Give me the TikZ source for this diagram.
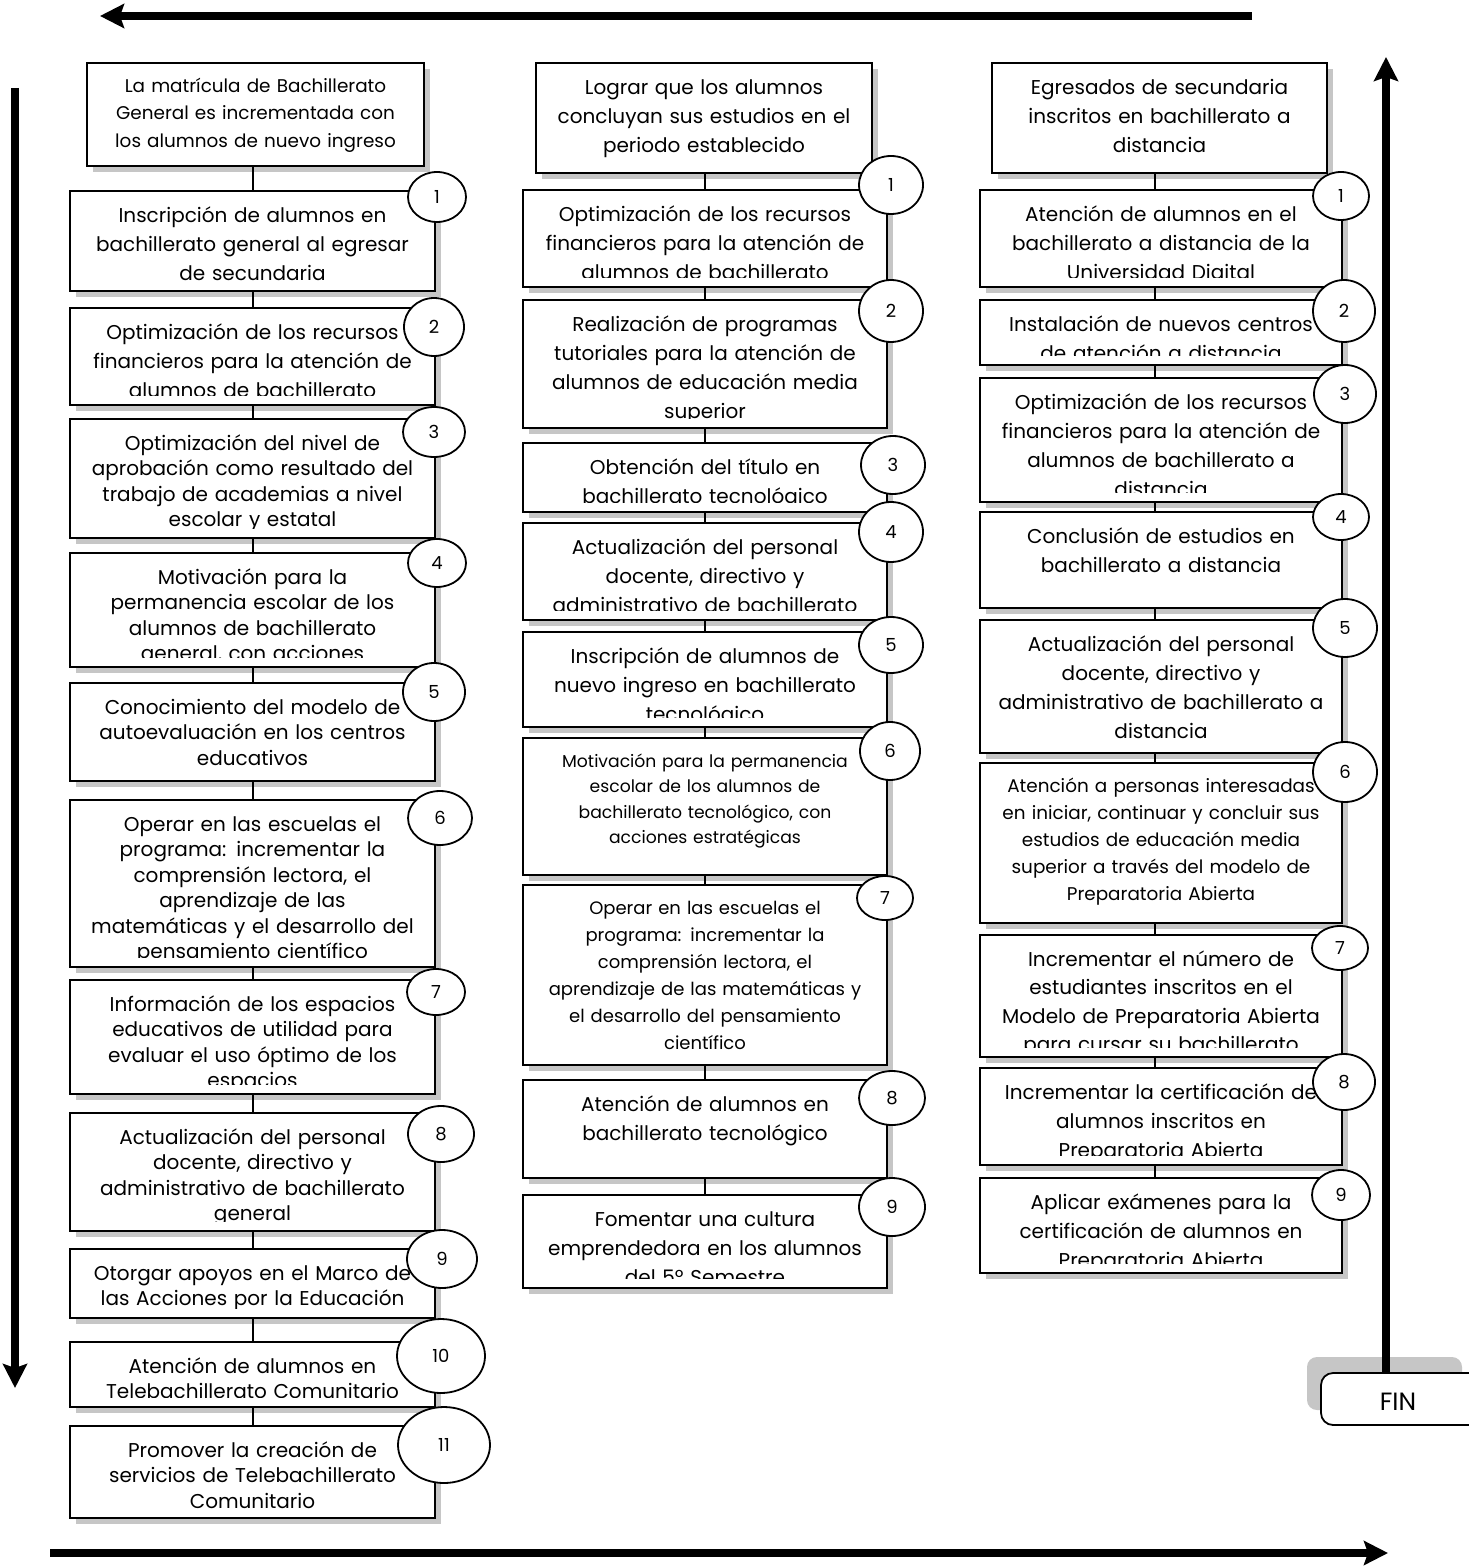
\documentclass[tikz,border=0pt]{standalone}
\usepackage{fontspec}
\setmainfont{Poppins}
\usetikzlibrary{fit,calc,shapes.geometric,arrows.meta}
\tikzset{
  boxst/.style={draw, fill=white, inner sep=0pt, line width=0.9pt},
  shadowst/.style={fill=gray!45},
  txt/.style={inner sep=0pt, text width=200pt, align=center},
  numst/.style={ellipse, draw, fill=white, line width=0.9pt, inner sep=0pt, font=\fontsize{9}{10}\selectfont},
  conn/.style={line width=0.9pt},
  bigarrow/.style={line width=4pt, -{Stealth[length=12pt,width=12pt,inset=2pt]}}
}
\newcommand\fA{\fontsize{10}{14.5}\selectfont}
\newcommand\fB{\fontsize{10}{12.75}\selectfont}
\newcommand\fC{\fontsize{9.2}{13.8}\selectfont}
\newcommand\fD{\fontsize{8.6}{12.75}\selectfont}
\newcommand\fE{\fontsize{9}{13.5}\selectfont}
\newcommand\fF{\fontsize{9.2}{13.5}\selectfont}
\newcommand\fG{\fontsize{10}{14.25}\selectfont}
% name, x1, y1, x2, y2, font, baseline offset, text
\newcommand\pbox[8]{%
  \fill[shadowst] (#2+6,#3+6) rectangle (#4+6,#5+6);
  \node[boxst, fit={(#2,#3)(#4,#5)}] (#1) {};
  \begin{scope}
    \clip ($(#1.south west)+(0,-10)$) rectangle (#1.north east);
    \node[txt, font=#6, anchor=base] (#1t) at ($(#1.north)+(0,#7)$) {#8};
  \end{scope}}
% name, cx, cy, rx(px)->width pt, ry, number
\newcommand\pnum[6]{\node[numst, minimum width=#4pt, minimum height=#5pt] (#1) at (#2,#3) {#6};}
\begin{document}
\begin{tikzpicture}[x=0.5pt,y=-0.5pt]
\useasboundingbox (0,0) rectangle (1468,1566);
\fill[white] (0,0) rectangle (1468,1566);

% ---------- column 1 ----------
\pbox{c1b0}{87}{63}{424}{166}{\fC}{30}{La matrícula de Bachillerato\\General es incrementada con\\los alumnos de nuevo ingreso}
\pbox{c1b1}{70}{191}{435}{291}{\fA}{32}{Inscripción de alumnos en\\bachillerato general al egresar\\de secundaria}
\pbox{c1b2}{70}{308}{435}{405}{\fA}{32}{Optimización de los recursos\\financieros para la atención de\\alumnos de bachillerato}
\pbox{c1b3}{70}{419}{435}{538}{\fB}{32}{Optimización del nivel de\\aprobación como resultado del\\trabajo de academias a nivel\\escolar y estatal}
\pbox{c1b4}{70}{553}{435}{667}{\fB}{32}{Motivación para la\\permanencia escolar de los\\alumnos de bachillerato\\general, con acciones\\estratégicas}
\pbox{c1b5}{70}{683}{435}{781}{\fB}{32}{Conocimiento del modelo de\\autoevaluación en los centros\\educativos}
\pbox{c1b6}{70}{800}{435}{967}{\fB}{32}{Operar en las escuelas el\\programa: incrementar la\\comprensión lectora, el\\aprendizaje de las\\matemáticas y el desarrollo del\\pensamiento científico}
\pbox{c1b7}{70}{980}{435}{1094}{\fB}{32}{Información de los espacios\\educativos de utilidad para\\evaluar el uso óptimo de los\\espacios}
\pbox{c1b8}{70}{1113}{435}{1231}{\fB}{32}{Actualización del personal\\docente, directivo y\\administrativo de bachillerato\\general}
\pbox{c1b9}{70}{1249}{435}{1318}{\fB}{32}{Otorgar apoyos en el Marco de\\las Acciones por la Educación}
\pbox{c1b10}{70}{1342}{435}{1407}{\fB}{32}{Atención de alumnos en\\Telebachillerato Comunitario}
\pbox{c1b11}{70}{1426}{435}{1518}{\fB}{32}{Promover la creación de\\servicios de Telebachillerato\\Comunitario}

% ---------- column 2 ----------
\pbox{c2b0}{536}{63}{872}{173}{\fA}{32}{Lograr que los alumnos\\concluyan sus estudios en el\\periodo establecido}
\pbox{c2b1}{523}{190}{887}{287}{\fA}{32}{Optimización de los recursos\\financieros para la atención de\\alumnos de bachillerato}
\pbox{c2b2}{523}{300}{887}{428}{\fA}{32}{Realización de programas\\tutoriales para la atención de\\alumnos de educación media\\superior}
\pbox{c2b3}{523}{443}{887}{512}{\fA}{32}{Obtención del título en\\bachillerato tecnológico}
\pbox{c2b4}{523}{523}{887}{620}{\fA}{32}{Actualización del personal\\docente, directivo y\\administrativo de bachillerato\\tecnológico}
\pbox{c2b5}{523}{632}{887}{727}{\fA}{32}{Inscripción de alumnos de\\nuevo ingreso en bachillerato\\tecnológico}
\pbox{c2b6}{523}{738}{887}{875}{\fD}{30}{Motivación para la permanencia\\escolar de los alumnos de\\bachillerato tecnológico, con\\acciones estratégicas}
\pbox{c2b7}{523}{885}{887}{1065}{\fE}{30}{Operar en las escuelas el\\programa: incrementar la\\comprensión lectora, el\\aprendizaje de las matemáticas y\\el desarrollo del pensamiento\\científico}
\pbox{c2b8}{523}{1080}{887}{1178}{\fA}{32}{Atención de alumnos en\\bachillerato tecnológico}
\pbox{c2b9}{523}{1195}{887}{1288}{\fA}{32}{Fomentar una cultura\\emprendedora en los alumnos\\del 5º Semestre}

% ---------- column 3 ----------
\pbox{c3b0}{992}{63}{1327}{173}{\fA}{32}{Egresados de secundaria\\inscritos en bachillerato a\\distancia}
\pbox{c3b1}{980}{190}{1342}{287}{\fA}{32}{Atención de alumnos en el\\bachillerato a distancia de la\\Universidad Digital}
\pbox{c3b2}{980}{300}{1342}{365}{\fA}{32}{Instalación de nuevos centros\\de atención a distancia}
\pbox{c3b3}{980}{378}{1342}{502}{\fA}{32}{Optimización de los recursos\\financieros para la atención de\\alumnos de bachillerato a\\distancia}
\pbox{c3b4}{980}{512}{1342}{608}{\fA}{32}{Conclusión de estudios en\\bachillerato a distancia}
\pbox{c3b5}{980}{620}{1342}{753}{\fA}{32}{Actualización del personal\\docente, directivo y\\administrativo de bachillerato a\\distancia}
\pbox{c3b6}{980}{763}{1342}{923}{\fF}{30}{Atención a personas interesadas\\en iniciar, continuar y concluir sus\\estudios de educación media\\superior a través del modelo de\\Preparatoria Abierta}
\pbox{c3b7}{980}{935}{1342}{1057}{\fG}{32}{Incrementar el número de\\estudiantes inscritos en el\\Modelo de Preparatoria Abierta\\para cursar su bachillerato}
\pbox{c3b8}{980}{1068}{1342}{1165}{\fA}{32}{Incrementar la certificación de\\alumnos inscritos en\\Preparatoria Abierta}
\pbox{c3b9}{980}{1178}{1342}{1273}{\fA}{32}{Aplicar exámenes para la\\certificación de alumnos en\\Preparatoria Abierta}

% ---------- connectors ----------
\coordinate (c1x) at (253,0);
\coordinate (c2x) at (705,0);
\coordinate (c3x) at (1155,0);
\foreach \i [evaluate=\i as \j using int(\i+1)] in {0,...,10}
  {\draw[conn] (c1x |- c1b\i.south) -- (c1x |- c1b\j.north);}
\foreach \i [evaluate=\i as \j using int(\i+1)] in {0,...,8}
  {\draw[conn] (c2x |- c2b\i.south) -- (c2x |- c2b\j.north);}
\foreach \i [evaluate=\i as \j using int(\i+1)] in {0,...,8}
  {\draw[conn] (c3x |- c3b\i.south) -- (c3x |- c3b\j.north);}

% ---------- numbers ----------
\pnum{n11}{437}{197}{29}{25}{1}
\pnum{n12}{434}{327}{30}{29}{2}
\pnum{n13}{434}{432}{31}{25}{3}
\pnum{n14}{437}{563}{29}{24}{4}
\pnum{n15}{434}{692}{31}{29}{5}
\pnum{n16}{440}{818}{32}{27}{6}
\pnum{n17}{436}{992}{29}{23}{7}
\pnum{n18}{441}{1134}{33}{28}{8}
\pnum{n19}{442}{1259}{35}{29}{9}
\pnum{n110}{441}{1356}{44}{37}{10}
\pnum{n111}{444}{1445}{46}{38}{11}

\pnum{n21}{891}{185}{32}{29}{1}
\pnum{n22}{891}{311}{32}{31}{2}
\pnum{n23}{893}{465}{32}{29}{3}
\pnum{n24}{891}{532}{32}{30}{4}
\pnum{n25}{891}{645}{32}{28}{5}
\pnum{n26}{890}{751}{30}{29}{6}
\pnum{n27}{885}{898}{28}{22}{7}
\pnum{n28}{892}{1098}{33}{27}{8}
\pnum{n29}{892}{1207}{33}{29}{9}

\pnum{n31}{1341}{196}{28}{24}{1}
\pnum{n32}{1344}{311}{31}{31}{2}
\pnum{n33}{1345}{394}{31}{29}{3}
\pnum{n34}{1341}{517}{28}{23}{4}
\pnum{n35}{1345}{628}{32}{29}{5}
\pnum{n36}{1345}{772}{32}{30}{6}
\pnum{n37}{1340}{948}{28}{22}{7}
\pnum{n38}{1344}{1082}{31}{28}{8}
\pnum{n39}{1341}{1195}{29}{25}{9}

% ---------- FIN ----------
\fill[gray!45, rounded corners=5pt] (1307,1357) rectangle (1462,1410);
\node[draw, fill=white, line width=0.9pt, rounded corners=6pt, minimum width=80pt, minimum height=26pt, inner sep=0pt] (fin) at (1401,1399) {};
\node[inner sep=0pt, font=\fontsize{12.5}{14}\selectfont] (fint) at (1398,1402) {FIN};

% ---------- big arrows ----------
\coordinate (ts) at (1252,16);
\coordinate (te) at (100,16);
\coordinate (ls) at (15,88);
\coordinate (le) at (15,1388);
\coordinate (bs) at (50,1553);
\coordinate (be) at (1388,1553);
\coordinate (rt) at (1386,57);
\draw[bigarrow] (ts) -- (te);
\draw[bigarrow] (ls) -- (le);
\draw[bigarrow] (bs) -- (be);
\draw[bigarrow] (rt |- fin.north) -- (rt);
\end{tikzpicture}
\end{document}
